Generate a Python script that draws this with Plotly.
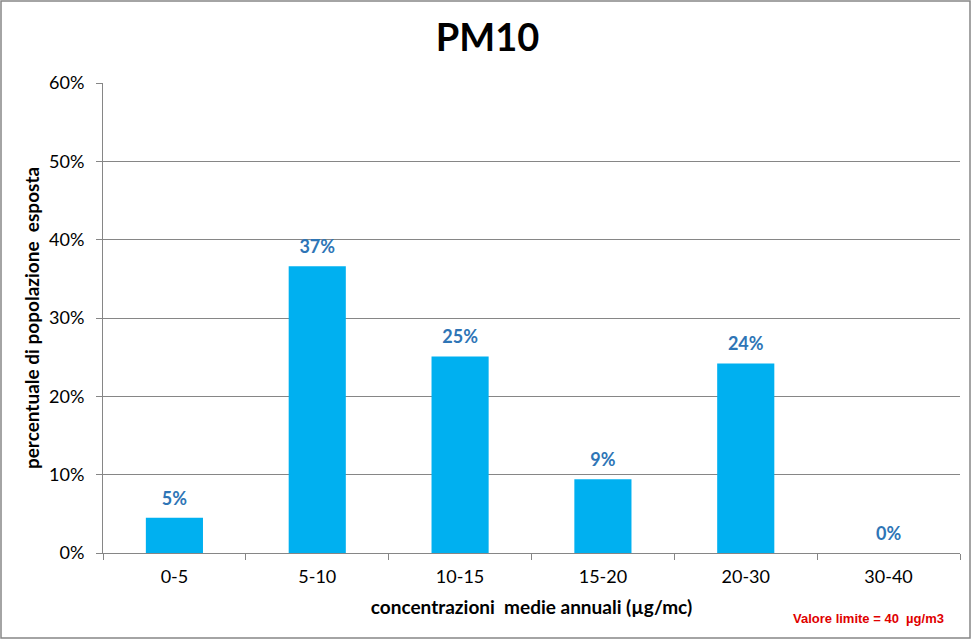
import plotly.graph_objects as go

categories = ["0-5", "5-10", "10-15", "15-20", "20-30", "30-40"]
values = [0.045, 0.366, 0.251, 0.094, 0.242, 0.0]
labels = ["5%", "37%", "25%", "9%", "24%", "0%"]

W, H = 975, 640
L, R, T, B = 103, 15, 83, 87
pw, ph = W - L - R, H - T - B

fig = go.Figure()
fig.add_trace(
    go.Bar(
        x=categories,
        y=values,
        marker=dict(color="#00B0F0", line=dict(width=0)),
        hoverinfo="x+y",
    )
)
fig.add_trace(
    go.Scatter(
        x=categories,
        y=values,
        mode="markers+text",
        text=labels,
        textposition="top center",
        textfont=dict(family="Lato", size=18, color="#2E75B6", weight="bold"),
        marker=dict(size=12, opacity=0),
        cliponaxis=False,
        hoverinfo="skip",
    )
)

fig.update_layout(
    width=W,
    height=H,
    margin=dict(l=L, r=R, t=T, b=B),
    paper_bgcolor="white",
    plot_bgcolor="white",
    bargap=0.6,
    showlegend=False,
    font=dict(family="Lato", color="#000000"),
    title=dict(
        text="<b>PM10</b>",
        x=0.5,
        xanchor="center",
        y=1 - 38 / H,
        yanchor="middle",
        font=dict(family="Lato", size=38, color="#000000"),
    ),
    xaxis=dict(
        type="category",
        showline=True,
        linecolor="#868686",
        linewidth=1,
        ticks="outside",
        tickson="boundaries",
        ticklen=6,
        tickcolor="#868686",
        ticklabelstandoff=7,
        tickfont=dict(family="Lato", size=18, color="#000000"),
        showgrid=False,
        title=dict(
            text="<b>concentrazioni  medie annuali (µg/mc)</b>",
            font=dict(family="Lato", size=19, color="#000000"),
            standoff=15,
        ),
    ),
    yaxis=dict(
        range=[0, 0.6],
        dtick=0.1,
        tickformat=".0%",
        showline=True,
        linecolor="#868686",
        linewidth=1,
        ticks="outside",
        ticklen=6,
        tickcolor="#868686",
        ticklabelstandoff=8,
        showgrid=True,
        gridcolor="#868686",
        gridwidth=1,
        zeroline=False,
        tickfont=dict(family="Lato", size=18, color="#000000"),
        title=dict(
            text="<b>percentuale di popolazione  esposta</b>",
            font=dict(family="Lato", size=19, color="#000000"),
            standoff=4,
        ),
    ),
    shapes=[
        dict(
            type="rect",
            xref="paper",
            yref="paper",
            x0=(1 - L) / pw,
            x1=(970 - L) / pw,
            y0=(H - B - 638) / ph,
            y1=(H - B - 1) / ph,
            line=dict(color="#868686", width=1.5),
            fillcolor="rgba(0,0,0,0)",
            layer="below",
        )
    ],
    annotations=[
        dict(
            text="<b>Valore limite = 40  µg/m3</b>",
            xref="paper",
            yref="paper",
            x=(946 - L) / pw,
            y=(H - B - 618) / ph,
            xanchor="right",
            yanchor="middle",
            showarrow=False,
            font=dict(family="Liberation Sans Narrow, Liberation Sans", size=13, color="#E00000"),
        )
    ],
)

fig.write_html(
    "out.html",
    config={"displayModeBar": False},
    post_script="document.body.style.margin='0px';",
)
